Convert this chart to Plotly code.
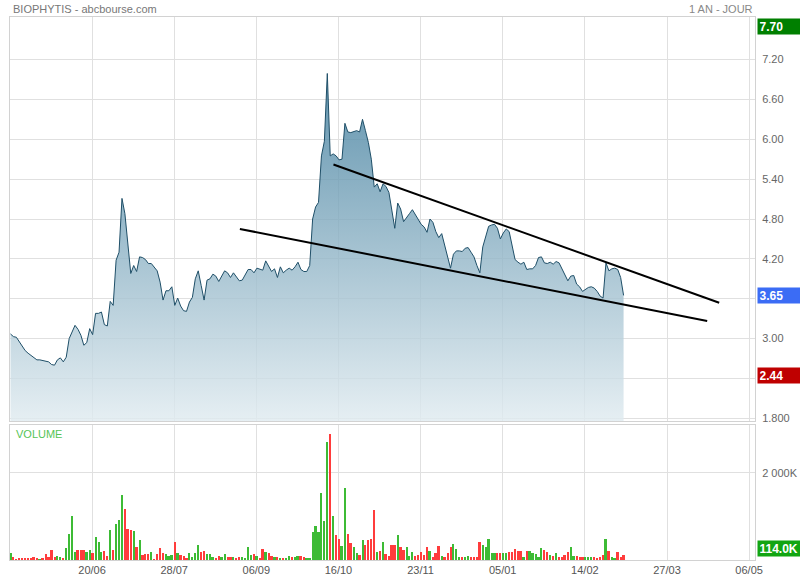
import plotly.graph_objects as go

# ---------------- data ----------------
DATE_TICKS = ["20/06", "28/07", "06/09", "16/10", "23/11", "05/01", "14/02", "27/03", "06/05"]
DATE_TICK_INDEX = [27.8, 55.8, 83.8, 111.8, 139.8, 167.8, 195.8, 223.8, 251.8]

CLOSE = [
    3.07, 3.03, 3.02, 2.95, 2.89, 2.82, 2.78, 2.75, 2.71, 2.68,
    2.68, 2.67, 2.66, 2.65, 2.61, 2.60, 2.68, 2.71, 2.65, 2.72,
    3.00, 3.10, 3.20, 3.14, 3.05, 2.90, 2.94, 3.15, 3.06, 3.38,
    3.38, 3.40, 3.21, 3.19, 3.56, 3.50, 4.18, 4.30, 5.11, 4.88,
    4.44, 3.98, 4.10, 4.01, 4.23, 4.22, 4.19, 4.13, 4.13, 4.08,
    4.02, 3.85, 3.58, 3.72, 3.72, 3.78, 3.50, 3.61, 3.49, 3.42,
    3.41, 3.55, 3.62, 3.90, 4.02, 3.80, 3.58, 3.88, 3.90, 3.97,
    3.94, 3.86, 3.93, 4.02, 3.99, 3.92, 3.99, 3.92, 3.87, 3.88,
    3.95, 4.04, 4.04, 3.99, 4.06, 4.05, 4.03, 4.17, 4.09, 4.01,
    4.05, 3.92, 4.08, 3.99, 4.03, 4.06, 4.03, 4.08, 4.15, 4.04,
    4.01, 4.01, 4.10, 4.80, 4.98, 5.05, 5.75, 5.97, 6.99, 5.75,
    5.78, 5.75, 5.69, 5.70, 6.24, 6.11, 6.10, 6.12, 6.13, 6.11,
    6.30, 6.13, 5.95, 5.70, 5.28, 5.33, 5.21, 5.33, 5.29, 5.20,
    4.95, 4.66, 5.04, 4.95, 4.76, 4.83, 4.88, 4.94, 4.86, 4.79,
    4.72, 4.68, 4.60, 4.80, 4.75, 4.61, 4.52, 4.58, 4.40, 4.22,
    4.06, 4.27, 4.32, 4.32, 4.31, 4.36, 4.37, 4.30, 4.23, 4.10,
    3.99, 4.38, 4.52, 4.69, 4.71, 4.72, 4.66, 4.50, 4.59, 4.65,
    4.61, 4.37, 4.19, 4.15, 4.12, 4.15, 4.04, 4.05, 4.05, 4.10,
    4.22, 4.23, 4.14, 4.13, 4.15, 4.12, 4.16, 4.14, 4.05, 3.96,
    3.87, 3.94, 3.95, 3.82, 3.78, 3.71, 3.74, 3.77, 3.78, 3.76,
    3.71, 3.64, 3.61, 4.14, 4.02, 4.05, 4.06, 4.04, 3.92, 3.65,
]

VOLUME_K = [
    163, 62, 16, 54, 54, 54, 54, 39, 78, 54,
    16, 31, 132, 78, 233, 78, 101, 62, 39, 271,
    597, 1015, 194, 240, 240, 233, 194, 240, 155, 527,
    411, 194, 209, 85, 698, 240, 829, 915, 1496, 1163,
    713, 690, 667, 295, 450, 116, 147, 147, 186, 23,
    132, 271, 163, 140, 93, 109, 411, 155, 116, 85,
    39, 155, 62, 163, 349, 186, 209, 140, 147, 78,
    47, 93, 70, 132, 62, 70, 70, 39, 78, 62,
    39, 295, 124, 147, 101, 54, 264, 178, 155, 101,
    70, 78, 31, 31, 39, 93, 62, 70, 101, 101,
    78, 47, 31, 643, 791, 636, 1535, 891, 2713, 2891,
    1015, 581, 488, 333, 1651, 605, 380, 310, 171, 124,
    450, 349, 450, 488, 1147, 194, 217, 411, 140, 85,
    349, 341, 581, 310, 233, 310, 85, 194, 101, 116,
    194, 116, 310, 217, 78, 155, 333, 101, 78, 155,
    295, 357, 256, 78, 78, 78, 93, 78, 78, 78,
    411, 349, 295, 473, 163, 163, 155, 155, 163, 171,
    194, 194, 248, 217, 217, 78, 217, 217, 155, 132,
    62, 279, 240, 186, 116, 85, 155, 78, 78, 116,
    194, 295, 101, 101, 78, 78, 62, 62, 62, 62,
    47, 62, 124, 473, 217, 78, 47, 194, 62, 114,
]

PRICE_TICKS = [7.20, 6.60, 6.00, 5.40, 4.80, 4.20, 3.60, 3.00, 2.40, 1.80]
PRICE_TICK_TEXT = ["7.20", "6.60", "6.00", "5.40", "4.80", "4.20", "", "3.00", "", "1.800"]
VOLUME_TICKS = [2000]
VOLUME_TICK_TEXT = ["2 000K"]

HIGH_LABEL = "7.70"
HIGH_VALUE = 7.70
LAST_LABEL = "3.65"
LAST_VALUE = 3.65
LOW_LABEL = "2.44"
LOW_VALUE = 2.44
LAST_VOLUME_LABEL = "114.0K"

UPPER_TREND_X = [110.1, 241.6]
UPPER_TREND_Y = [5.62, 3.54]
LOWER_TREND_X = [78.2, 237.5]
LOWER_TREND_Y = [4.65, 3.265]

# ---------------- figure ----------------
FONT = "Liberation Sans, Arial, sans-serif"
GRID = "#e0e0e0"
BORDER = "#d2d2d2"
idx = list(range(len(CLOSE)))

bar_colors = []
for i, c in enumerate(CLOSE):
    if i == 0 or c >= CLOSE[i - 1]:
        bar_colors.append("#3dbb35")
    else:
        bar_colors.append("#ff3c3c")

fig = go.Figure()

fig.add_trace(go.Scatter(
    x=idx, y=CLOSE, mode="lines",
    line=dict(color="#1f4f68", width=1),
    fill="tozeroy",
    fillgradient=dict(
        type="vertical",
        colorscale=[[0, "rgba(224,235,240,0.82)"], [1, "rgba(62,124,156,0.82)"]],
        start=1.76, stop=7.0,
    ),
    hoverinfo="skip", showlegend=False, xaxis="x", yaxis="y",
))

fig.add_trace(go.Scatter(
    x=UPPER_TREND_X, y=UPPER_TREND_Y, mode="lines",
    line=dict(color="#000000", width=2), showlegend=False, xaxis="x", yaxis="y",
))
fig.add_trace(go.Scatter(
    x=LOWER_TREND_X, y=LOWER_TREND_Y, mode="lines",
    line=dict(color="#000000", width=2), showlegend=False, xaxis="x", yaxis="y",
))

fig.add_trace(go.Bar(
    x=idx, y=VOLUME_K, marker=dict(color=bar_colors, line=dict(width=0)),
    width=0.68, showlegend=False, xaxis="x2", yaxis="y2",
))

PLOT_TOP_PX, PLOT_BOT_PX = 17, 560
PH = PLOT_BOT_PX - PLOT_TOP_PX


def py(px):
    return (PLOT_BOT_PX - px) / PH


axis_common = dict(showgrid=True, gridcolor=GRID, gridwidth=1, zeroline=False,
                   showline=True, mirror=True, linecolor=BORDER, linewidth=1, ticks="",
                   automargin=False)

fig.update_layout(
    width=800, height=580,
    margin=dict(l=10, r=45, t=PLOT_TOP_PX, b=580 - PLOT_BOT_PX, autoexpand=False),
    paper_bgcolor="white", plot_bgcolor="white",
    font=dict(family=FONT, size=11, color="#666666"),
    bargap=0,
    xaxis=dict(domain=[0, 1], range=[-0.17, 253.8], anchor="y",
               tickvals=DATE_TICK_INDEX, showticklabels=False, **axis_common),
    yaxis=dict(domain=[py(421), 1], range=[1.76, 7.84], side="right", anchor="x",
               tickvals=PRICE_TICKS, ticktext=PRICE_TICK_TEXT, ticklabelstandoff=4,
               tickfont=dict(size=11, color="#666666"), **axis_common),
    xaxis2=dict(domain=[0, 1], range=[-0.17, 253.8], anchor="y2", matches="x",
                tickvals=DATE_TICK_INDEX, ticktext=DATE_TICKS,
                tickfont=dict(size=11, color="#555555"), **axis_common),
    yaxis2=dict(domain=[0, py(425)], range=[0, 3103], side="right", anchor="x2",
                tickvals=VOLUME_TICKS, ticktext=VOLUME_TICK_TEXT, ticklabelstandoff=4,
                tickfont=dict(size=11, color="#666666"), **axis_common),
)

ann = []
ann.append(dict(text="BIOPHYTIS - abcbourse.com", x=0, xref="paper", xanchor="left", xshift=1,
                y=py(9), yref="paper", yanchor="middle", showarrow=False,
                font=dict(size=11, color="#777777", family=FONT)))
ann.append(dict(text="1 AN - JOUR", x=1, xref="paper", xanchor="right", xshift=0,
                y=py(9), yref="paper", yanchor="middle", showarrow=False,
                font=dict(size=11, color="#888888", family=FONT)))
ann.append(dict(text="VOLUME", x=0, xref="paper", xanchor="left", xshift=4,
                y=py(434), yref="paper", yanchor="middle", showarrow=False,
                font=dict(size=11, color="#55c455", family=FONT)))


def value_box(text, y, yref, color):
    return dict(text="<b>" + text + "</b>", x=1, xref="paper", xanchor="left", xshift=2,
                y=y, yref=yref, yanchor="middle", showarrow=False,
                bgcolor=color, width=40, height=12, borderpad=1.5, align="left",
                font=dict(size=12, color="white", family=FONT))


ann.append(value_box(HIGH_LABEL, HIGH_VALUE, "y", "#007f00"))
ann.append(value_box(LAST_LABEL, LAST_VALUE, "y", "#3b6cf5"))
ann.append(value_box(LOW_LABEL, LOW_VALUE, "y", "#bf0000"))
ann.append(value_box(LAST_VOLUME_LABEL, py(548), "paper", "#12a512"))
fig.update_layout(annotations=ann)

fig.write_html("out.html", config={"displayModeBar": False},
               post_script="document.body.style.margin='0';document.body.style.overflow='hidden';")
